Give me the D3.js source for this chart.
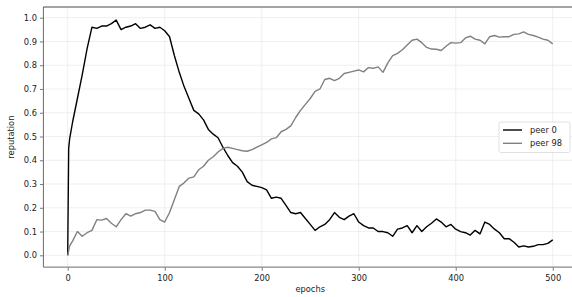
<!DOCTYPE html>
<html><head><meta charset="utf-8">
<script src="https://cdn.jsdelivr.net/npm/d3@7"></script>
<style>body{margin:0;background:#fff}svg{display:block;font-family:"DejaVu Sans",sans-serif}</style>
</head><body>
<svg id="c" width="572" height="297"></svg>
<script>
const epochs = [0,1,2,5,10,15,20,25,30,35,40,45,50,55,60,65,70,75,80,85,90,95,100,105,110,115,120,125,130,135,140,145,150,155,160,165,170,175,180,185,190,195,200,205,210,215,220,225,230,235,240,245,250,255,260,265,270,275,280,285,290,295,300,305,310,315,320,325,330,335,340,345,350,355,360,365,370,375,380,385,390,395,400,405,410,415,420,425,430,435,440,445,450,455,460,465,470,475,480,485,490,495,500];
const peer0 = [0.0,0.45,0.49,0.56,0.66,0.76,0.87,0.96,0.955,0.965,0.965,0.975,0.99,0.95,0.96,0.965,0.975,0.955,0.96,0.97,0.955,0.96,0.945,0.92,0.84,0.77,0.71,0.66,0.61,0.595,0.57,0.53,0.51,0.495,0.455,0.42,0.39,0.375,0.35,0.31,0.295,0.29,0.285,0.275,0.24,0.245,0.24,0.21,0.18,0.175,0.18,0.155,0.13,0.105,0.12,0.13,0.15,0.18,0.16,0.15,0.165,0.175,0.14,0.125,0.115,0.115,0.10,0.10,0.095,0.08,0.11,0.115,0.125,0.095,0.125,0.10,0.12,0.135,0.153,0.14,0.12,0.13,0.11,0.10,0.095,0.085,0.105,0.09,0.14,0.13,0.11,0.095,0.07,0.07,0.055,0.035,0.04,0.035,0.038,0.045,0.045,0.05,0.065];
const peer98 = [0.0,0.02,0.04,0.06,0.10,0.08,0.095,0.105,0.15,0.148,0.155,0.135,0.12,0.15,0.175,0.165,0.175,0.18,0.19,0.19,0.185,0.15,0.14,0.18,0.235,0.29,0.305,0.325,0.33,0.36,0.375,0.40,0.415,0.435,0.45,0.455,0.45,0.445,0.44,0.438,0.445,0.455,0.465,0.475,0.49,0.495,0.52,0.53,0.545,0.58,0.61,0.635,0.66,0.69,0.70,0.74,0.745,0.735,0.745,0.765,0.77,0.775,0.78,0.772,0.79,0.787,0.793,0.77,0.81,0.84,0.85,0.865,0.885,0.905,0.91,0.895,0.875,0.868,0.867,0.862,0.88,0.895,0.893,0.895,0.915,0.922,0.91,0.905,0.89,0.92,0.925,0.918,0.92,0.92,0.93,0.932,0.94,0.93,0.925,0.918,0.91,0.905,0.89];
const seriesNames = ["peer 0","peer 98"];
const seriesColors = ["#000000","#808080"];
const xTicks = [0,100,200,300,400,500];
const yTicks = [0.0,0.1,0.2,0.3,0.4,0.5,0.6,0.7,0.8,0.9,1.0];

const svg = d3.select("#c");
const x = d3.scaleLinear().domain([-25,525]).range([43.45,577]);
const y = d3.scaleLinear().domain([-0.05,1.045]).range([267.2,7.0]);
const L=43.45, R=577, T=7.0, B=267.2;

// grid
svg.append("g").selectAll("line").data(yTicks).join("line")
  .attr("x1",L).attr("x2",R).attr("y1",d=>y(d)).attr("y2",d=>y(d))
  .attr("stroke","#ebebeb").attr("stroke-width",0.8);
svg.append("g").selectAll("line").data(xTicks).join("line")
  .attr("y1",T).attr("y2",B).attr("x1",d=>x(d)).attr("x2",d=>x(d))
  .attr("stroke","#ebebeb").attr("stroke-width",0.8);

// lines
const line = d3.line().x((d,i)=>x(epochs[i])).y(d=>y(d));
[peer0, peer98].forEach((s,k)=>{
  svg.append("path").datum(s).attr("d",line).attr("fill","none")
    .attr("stroke",seriesColors[k]).attr("stroke-width",1.4).attr("stroke-linejoin","round");
});

// axes
const xa = svg.append("g").attr("transform",`translate(0,${B})`)
  .call(d3.axisBottom(x).tickValues(xTicks).tickFormat(d3.format("d")).tickSize(3.5).tickSizeOuter(0));
const ya = svg.append("g").attr("transform",`translate(${L},0)`)
  .call(d3.axisLeft(y).tickValues(yTicks).tickFormat(d3.format(".1f")).tickSize(3.5).tickSizeOuter(0));
[xa,ya].forEach(a=>{
  a.select(".domain").remove();
  a.selectAll(".tick line").attr("stroke","#555").attr("stroke-width",0.8);
  a.selectAll(".tick text").attr("fill","#222").style("font-size","8.3px").style("font-family","DejaVu Sans");
});
xa.selectAll(".tick text").attr("dy","0.9em");
// spines
svg.append("line").attr("x1",L).attr("x2",R).attr("y1",B).attr("y2",B).attr("stroke","#888").attr("stroke-width",1.3);
svg.append("line").attr("x1",L).attr("x2",L).attr("y1",T).attr("y2",B).attr("stroke","#777").attr("stroke-width",1.1);
svg.append("line").attr("x1",L).attr("x2",R).attr("y1",T).attr("y2",T).attr("stroke","#333").attr("stroke-width",0.9);

// labels
svg.append("text").attr("x",x(250)).attr("y",292).attr("text-anchor","middle")
  .style("font-size","8.3px").attr("fill","#222").text("epochs");
svg.append("text").attr("transform",`translate(14,${(T+B)/2}) rotate(-90)`).attr("text-anchor","middle")
  .style("font-size","8.3px").attr("fill","#222").text("reputation");

// legend
const lg = svg.append("g").attr("transform","translate(499,122)");
lg.append("rect").attr("width",71).attr("height",30.5).attr("rx",2).attr("fill","#fff")
  .attr("stroke","#d8d8d8").attr("stroke-width",0.8);
seriesNames.forEach((n,i)=>{
  const yy = 8 + i*13.3;
  lg.append("line").attr("x1",4).attr("x2",23).attr("y1",yy).attr("y2",yy)
    .attr("stroke",seriesColors[i]).attr("stroke-width",1.4);
  lg.append("text").attr("x",31).attr("y",yy).attr("dy","0.35em")
    .style("font-size","8.3px").attr("fill","#222").text(n);
});
</script>
</body></html>
